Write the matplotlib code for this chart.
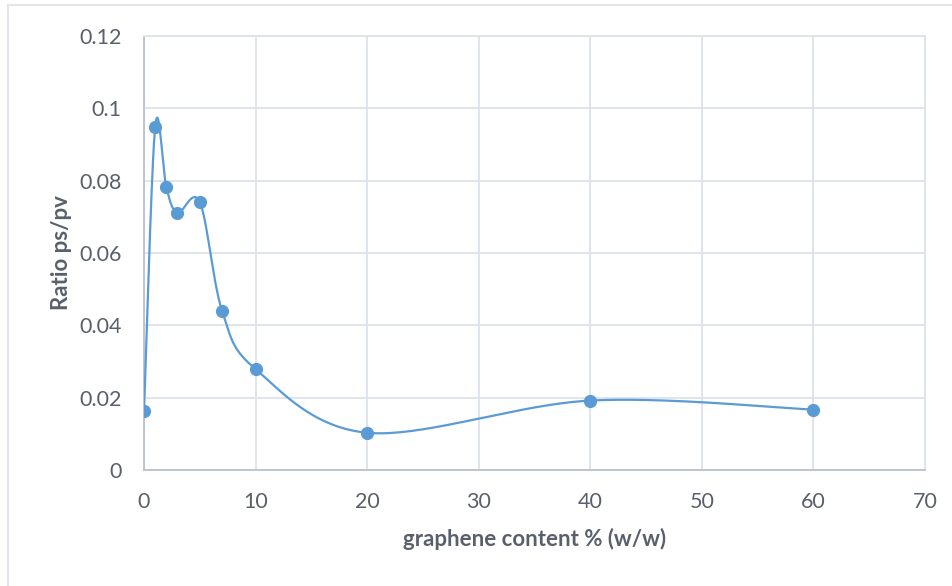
import numpy as np
import matplotlib.pyplot as plt

# graphene content vs ratio ps/pv
content = [0, 1, 2, 3, 5, 7, 10, 20, 40, 60]
ratio = [0.0163, 0.0948, 0.0782, 0.0711, 0.0741, 0.0440, 0.0279, 0.0103, 0.0192, 0.0167]
xticks = [0, 10, 20, 30, 40, 50, 60, 70]
yticks = [0, 0.02, 0.04, 0.06, 0.08, 0.1, 0.12]
ytick_labels = ['0', '0.02', '0.04', '0.06', '0.08', '0.1', '0.12']

blue = '#5b9bd5'
grid_c = '#dde2ea'
txt_c = '#5a606b'


def smooth(xs, ys, n=40):
    # excel-like smoothed line: bezier segments, control points from neighbours
    xs = np.asarray(xs, float)
    ys = np.asarray(ys, float)
    px = np.concatenate([[xs[0]], xs, [xs[-1]]])
    py = np.concatenate([[ys[0]], ys, [ys[-1]]])
    outx, outy = [], []
    t = np.linspace(0, 1, n)
    for i in range(1, len(px) - 2):
        p0 = np.array([px[i], py[i]])
        p3 = np.array([px[i + 1], py[i + 1]])
        c1 = p0 + (np.array([px[i + 1], py[i + 1]]) - np.array([px[i - 1], py[i - 1]])) / 6
        c2 = p3 - (np.array([px[i + 2], py[i + 2]]) - np.array([px[i], py[i]])) / 6
        for k in range(2):
            seg = ((1 - t) ** 3 * p0[k] + 3 * (1 - t) ** 2 * t * c1[k]
                   + 3 * (1 - t) * t ** 2 * c2[k] + t ** 3 * p3[k])
            (outx if k == 0 else outy).append(seg)
    return np.concatenate(outx), np.concatenate(outy)


plt.rcParams['font.family'] = ['Lato', 'DejaVu Sans']

fig = plt.figure(figsize=(9.53, 5.86), dpi=100)
ax = fig.add_axes([144 / 953, 1 - 470 / 586, (925 - 144) / 953, (470 - 36) / 586])

# outer chart border
fig.add_artist(plt.Line2D([8 / 953, 1.0], [1 - 5 / 586, 1 - 5 / 586], color='#e2e6ec', lw=1.5))
fig.add_artist(plt.Line2D([8 / 953, 8 / 953], [0, 1 - 5 / 586], color='#e2e6ec', lw=1.5))

sx, sy = smooth(content, ratio)
ax.plot(sx, sy, color=blue, lw=1.6, zorder=3)
ax.plot(content, ratio, 'o', color=blue, markersize=8.5, zorder=4)

ax.set_xlim(0, 70)
ax.set_ylim(0, 0.12)
ax.set_xticks(xticks)
ax.set_yticks(yticks)
ax.set_yticklabels(ytick_labels)
ax.grid(True, color=grid_c, lw=1.3)
ax.set_axisbelow(True)

for s in ['top', 'right']:
    ax.spines[s].set_color(grid_c)
    ax.spines[s].set_linewidth(1.3)
for s in ['left', 'bottom']:
    ax.spines[s].set_color('#b8c2cf')
    ax.spines[s].set_linewidth(1.3)

ax.tick_params(length=0, labelsize=15.5, colors=txt_c)
ax.tick_params(axis='x', pad=16)
ax.tick_params(axis='y', pad=16)

ax.set_xlabel('graphene content % (w/w)', fontsize=16, fontweight='bold', color=txt_c, labelpad=11)
ax.set_ylabel('Ratio ps/pv', fontsize=16, fontweight='bold', color=txt_c, labelpad=5)

fig.savefig('out.png', dpi=100)
